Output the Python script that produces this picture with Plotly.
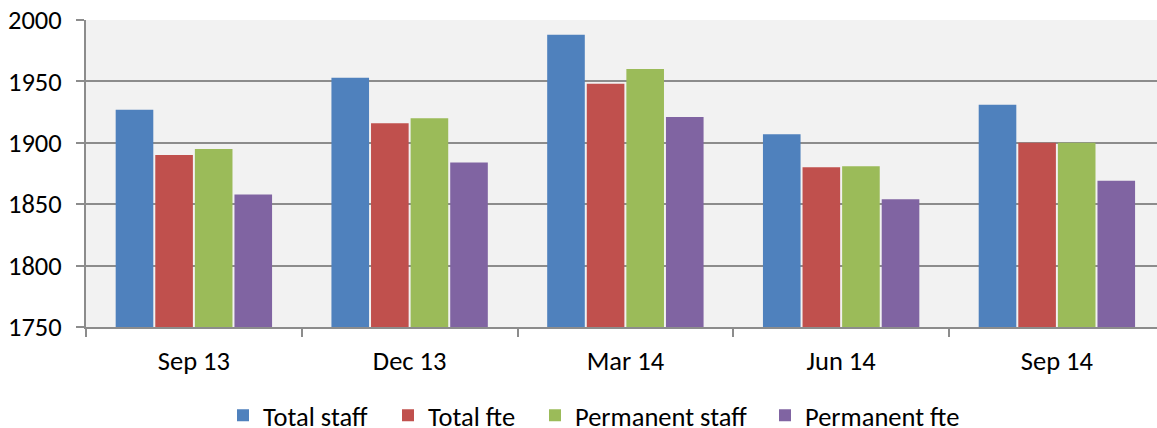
import plotly.graph_objects as go

categories = ["Sep 13", "Dec 13", "Mar 14", "Jun 14", "Sep 14"]
total_staff = [1927, 1953, 1988, 1907, 1931]
total_fte = [1890, 1916, 1948, 1880, 1900]
permanent_staff = [1895, 1920, 1960, 1881, 1900]
permanent_fte = [1858, 1884, 1921, 1854, 1869]
y_ticks = [1750, 1800, 1850, 1900, 1950, 2000]

series = [
    ("Total staff", total_staff, "#4F81BD"),
    ("Total fte", total_fte, "#C0504D"),
    ("Permanent staff", permanent_staff, "#9BBB59"),
    ("Permanent fte", permanent_fte, "#8064A2"),
]

FONT = "Calibri, Carlito, Liberation Sans, Arial, sans-serif"
FS = 26.5
W, H = 1157, 428
L, T, B = 86.3, 20.3, 101.3

fig = go.Figure()
legend_x_px = [223, 388, 535, 765]
for i, (name, vals, col) in enumerate(series):
    lg = "legend" if i == 0 else f"legend{i+1}"
    fig.add_trace(go.Bar(
        x=categories, y=vals, name=name, legend=lg, showlegend=True,
        marker=dict(color=col, line=dict(width=0)),
    ))

fig.update_layout(
    width=W, height=H,
    showlegend=True,
    margin=dict(l=L, r=0, t=T, b=B, pad=0),
    paper_bgcolor="white",
    plot_bgcolor="#F2F2F2",
    barmode="group",
    bargap=0.266,
    bargroupgap=0.05,
    font=dict(family=FONT, size=FS, color="#000000"),
    xaxis=dict(
        type="category",
        range=[-0.5, 4.464],
        showline=True, linecolor="#8C8C8C", linewidth=2,
        ticks="outside", tickson="boundaries", ticklen=8, tickwidth=2, tickcolor="#8C8C8C",
        showgrid=False, zeroline=False,
        tickfont=dict(family=FONT, size=FS, color="#000000"),
        ticklabelstandoff=9,
    ),
    yaxis=dict(
        range=[1750, 2000],
        tickvals=y_ticks,
        showline=True, linecolor="#8C8C8C", linewidth=2,
        ticks="outside", ticklen=8, tickwidth=2, tickcolor="#8C8C8C",
        showgrid=True, gridcolor="#8C8C8C", gridwidth=2,
        zeroline=False,
        tickfont=dict(family=FONT, size=FS, color="#000000"),
        ticklabelstandoff=9,
    ),
)

for i, xp in enumerate(legend_x_px):
    key = "legend" if i == 0 else f"legend{i+1}"
    fig.update_layout({key: dict(
        orientation="h",
        xref="container", yref="container",
        x=xp / W, y=(H - 415.5) / H,
        xanchor="left", yanchor="middle",
        bgcolor="rgba(0,0,0,0)", borderwidth=0,
        font=dict(family=FONT, size=FS, color="#000000"),
        itemclick=False, itemdoubleclick=False,
        visible=True,
    )})

fig.write_html("out.html")
